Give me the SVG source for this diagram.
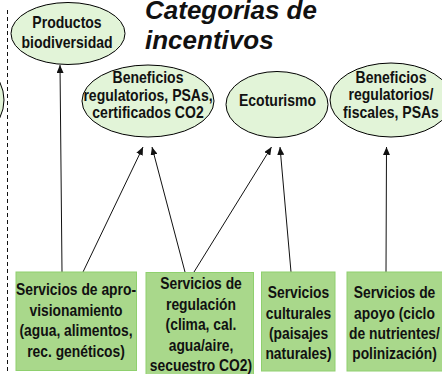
<svg xmlns="http://www.w3.org/2000/svg" width="442" height="374" viewBox="0 0 442 374">
<style>
.ell{fill:#e2f4d8;stroke:#000;stroke-width:1}
.box{fill:#a9d88b;stroke:#8fd06e;stroke-width:1}
.t{font-family:"Liberation Sans",Arial,sans-serif;font-weight:bold;font-size:16.5px;fill:#111;text-anchor:middle}
.title{font-family:"Liberation Sans",Arial,sans-serif;font-weight:bold;font-style:italic;font-size:26px;fill:#111}
.c{stroke:#111;stroke-width:1;fill:none;marker-end:url(#ah)}
</style>
<defs>
<marker id="ah" markerWidth="8" markerHeight="7" refX="8" refY="3.5" orient="auto" markerUnits="userSpaceOnUse">
<path d="M0,0 L8,3.5 L0,7 z" fill="#111"/>
</marker>
</defs>
<line x1="7.5" y1="10" x2="7.5" y2="374" stroke="#111" stroke-width="1" stroke-dasharray="4,3"/>
<g id="partial-ellipse"><ellipse class="ell" cx="-50" cy="100" rx="54" ry="46"/></g>
<g id="title"><text class="title" x="145"><tspan x="145" y="19">Categorias de</tspan><tspan x="145" y="48.5">incentivos</tspan></text></g>
<g id="connectors">
<line class="c" x1="62" y1="272" x2="60" y2="65"/>
<line class="c" x1="83" y1="272" x2="143" y2="147"/>
<line class="c" x1="185" y1="272" x2="152" y2="147"/>
<line class="c" x1="194" y1="272" x2="271.5" y2="147"/>
<line class="c" x1="291" y1="272" x2="280" y2="147"/>
<line class="c" x1="386" y1="272" x2="386.5" y2="147"/>
</g>
<g id="productos"><ellipse class="ell" cx="68" cy="33.5" rx="57" ry="31"/>
<g transform="translate(67,0) scale(0.85,1)"><text class="t"><tspan x="0" y="28.5">Productos</tspan><tspan x="0" y="48">biodiversidad</tspan></text></g></g>
<g id="beneficios1"><ellipse class="ell" cx="148" cy="101" rx="66" ry="36"/>
<g transform="translate(148,0) scale(0.85,1)"><text class="t"><tspan x="0" y="83.5">Beneficios</tspan><tspan x="0" y="101">regulatorios, PSAs,</tspan><tspan x="0" y="118.5">certificados CO2</tspan></text></g></g>
<g id="ecoturismo"><ellipse class="ell" cx="277" cy="104.5" rx="51" ry="33"/>
<g transform="translate(277.5,0) scale(0.85,1)"><text class="t"><tspan x="0" y="106.5">Ecoturismo</tspan></text></g></g>
<g id="beneficios2"><ellipse class="ell" cx="391" cy="100" rx="61" ry="37"/>
<g transform="translate(391,0) scale(0.85,1)"><text class="t"><tspan x="0" y="83">Beneficios</tspan><tspan x="0" y="100.5">regulatorios/</tspan><tspan x="0" y="118.5">fiscales, PSAs</tspan></text></g></g>
<g id="aprovisionamiento"><rect class="box" x="16" y="272" width="120.5" height="98.5"/>
<g transform="translate(76,0) scale(0.84,1)"><text class="t"><tspan x="0" y="295.5">Servicios de apro-</tspan><tspan x="0" y="316">visionamiento</tspan><tspan x="0" y="336.5">(agua, alimentos,</tspan><tspan x="0" y="357">rec. genéticos)</tspan></text></g></g>
<g id="regulacion"><rect class="box" x="146" y="272.5" width="107.5" height="110"/>
<g transform="translate(201,0) scale(0.84,1)"><text class="t"><tspan x="0" y="289.5">Servicios de</tspan><tspan x="0" y="310">regulación</tspan><tspan x="0" y="330.5">(clima, cal.</tspan><tspan x="0" y="351">agua/aire,</tspan><tspan x="0" y="371.5">secuestro CO2)</tspan></text></g></g>
<g id="culturales"><rect class="box" x="261.5" y="272" width="73.5" height="99"/>
<g transform="translate(298.5,0) scale(0.84,1)"><text class="t"><tspan x="0" y="298.5">Servicios</tspan><tspan x="0" y="319">culturales</tspan><tspan x="0" y="339.5">(paisajes</tspan><tspan x="0" y="359.5">naturales)</tspan></text></g></g>
<g id="apoyo"><rect class="box" x="347" y="272" width="100" height="99"/>
<g transform="translate(394.5,0) scale(0.84,1)"><text class="t"><tspan x="0" y="298.5">Servicios de</tspan><tspan x="0" y="319">apoyo (ciclo</tspan><tspan x="0" y="339.5">de nutrientes/</tspan><tspan x="0" y="359.5">polinización)</tspan></text></g></g>
</svg>
